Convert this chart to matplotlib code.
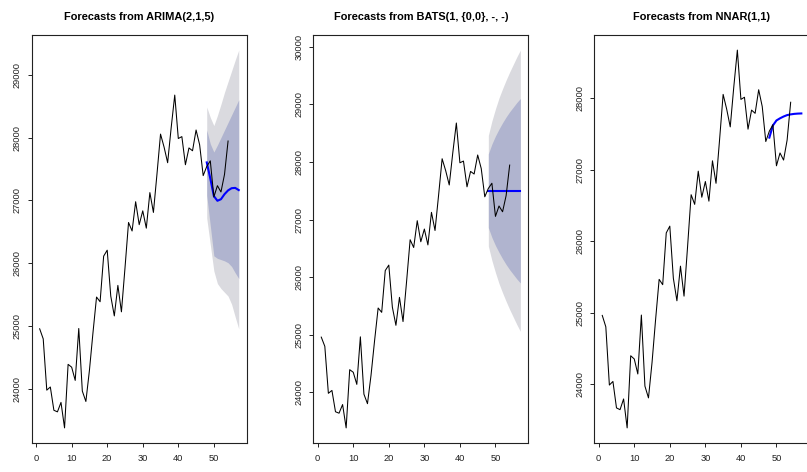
import matplotlib
matplotlib.use('Agg')
import matplotlib.pyplot as plt
from matplotlib import ticker

plt.rcParams['font.family'] = ['Liberation Sans', 'DejaVu Sans']

# observed series, periods 1..54
obs_t = list(range(1, 55))
obs_y = [
    24960, 24800, 23985, 24035, 23665, 23640, 23790, 23385, 24395, 24350,
    24140, 24965, 23970, 23805, 24300, 24900, 25465, 25390, 26115, 26210,
    25480, 25165, 25650, 25230, 25925, 26650, 26515, 26980, 26615, 26835,
    26560, 27125, 26810, 27420, 28055, 27848, 27600, 28160, 28675, 27985,
    28015, 27568, 27835, 27790, 28120, 27885, 27395, 27540, 27630, 27055,
    27235, 27135, 27415, 27945,
]

# forecast horizon, periods 48..57
fc_t = list(range(48, 58))

arima_mean = [27605, 27350, 27070, 26995, 27020, 27100, 27160, 27195, 27200, 27165]
arima_lo80 = [27080, 26600, 26120, 26080, 26060, 26040, 26010, 25950, 25850, 25760]
arima_hi80 = [28120, 27900, 27770, 27880, 28000, 28120, 28240, 28360, 28480, 28600]
arima_lo95 = [26720, 26300, 25880, 25680, 25600, 25540, 25480, 25350, 25150, 24960]
arima_hi95 = [28485, 28320, 28190, 28350, 28530, 28720, 28890, 29060, 29230, 29390]

bats_mean = [27500] * 10
bats_lo80 = [26860, 26690, 26550, 26430, 26320, 26220, 26130, 26050, 25970, 25900]
bats_hi80 = [28140, 28310, 28450, 28570, 28680, 28780, 28870, 28950, 29030, 29100]
bats_lo95 = [26540, 26290, 26080, 25890, 25730, 25580, 25440, 25310, 25180, 25060]
bats_hi95 = [28460, 28710, 28920, 29110, 29270, 29420, 29560, 29690, 29820, 29940]

nnar_mean = [27450, 27620, 27690, 27720, 27745, 27765, 27775, 27782, 27786, 27788]

titles = [
    'Forecasts from ARIMA(2,1,5)',
    'Forecasts from BATS(1, {0,0}, -, -)',
    'Forecasts from NNAR(1,1)',
]

SHADE_95 = '#dadadf'
SHADE_80 = '#b0b4cf'


def style_axes(ax, title):
    ax.set_title(title, fontsize=7.9, fontweight='bold', pad=11)
    ax.margins(x=0.04, y=0.04)
    ax.xaxis.set_major_locator(ticker.MultipleLocator(10))
    ax.yaxis.set_major_locator(ticker.MultipleLocator(1000))
    ax.tick_params(direction='out', length=3, width=0.7, labelsize=6.7,
                   colors='#222222')
    ax.tick_params(axis='x', pad=5)
    ax.tick_params(axis='y', pad=4)
    for lbl in ax.get_yticklabels():
        lbl.set_rotation(90)
        lbl.set_va('center')
    for sp in ax.spines.values():
        sp.set_linewidth(0.8)
        sp.set_color('#222222')


def draw_panel(ax, title, mean, bands=None):
    if bands is not None:
        lo95, hi95, lo80, hi80 = bands
        ax.fill_between(fc_t, lo95, hi95, color=SHADE_95, lw=0, zorder=1)
        ax.fill_between(fc_t, lo80, hi80, color=SHADE_80, lw=0, zorder=2)
    ax.plot(fc_t, mean, color='#0000ff', lw=1.5, zorder=3)
    ax.plot(obs_t, obs_y, color='black', lw=0.75, zorder=4)
    style_axes(ax, title)


fig = plt.figure(figsize=(8.07, 4.72), dpi=100)

bottom = 1 - 443 / 472
height = 408 / 472
width = 215 / 807
lefts = [31.7 / 807, 313.3 / 807, 594.3 / 807]

ax1 = fig.add_axes([lefts[0], bottom, width, height])
draw_panel(ax1, titles[0], arima_mean,
           (arima_lo95, arima_hi95, arima_lo80, arima_hi80))

ax2 = fig.add_axes([lefts[1], bottom, width, height])
draw_panel(ax2, titles[1], bats_mean,
           (bats_lo95, bats_hi95, bats_lo80, bats_hi80))

ax3 = fig.add_axes([lefts[2], bottom, width, height])
draw_panel(ax3, titles[2], nnar_mean)

fig.savefig('out.png', dpi=100)
plt.close(fig)
